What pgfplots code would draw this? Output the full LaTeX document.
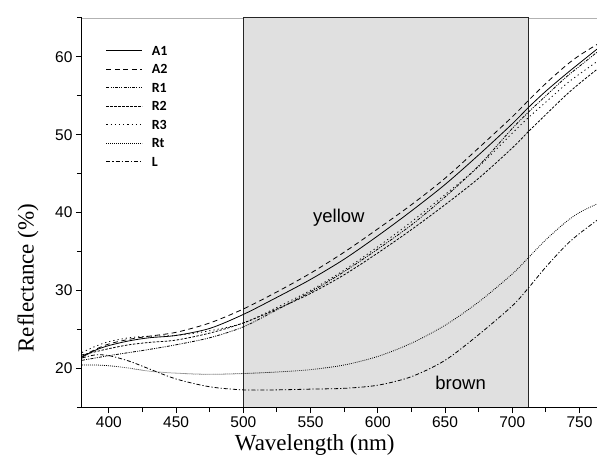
\documentclass[border=0pt]{standalone}
\usepackage{fontspec}
\setmainfont{Liberation Serif}
\newfontfamily\sansf{Liberation Sans}
\newfontfamily\legf{Carlito}
\usepackage{pgfplots}
\usepackage{pgfplotstable}
\pgfplotsset{compat=1.18}

\pgfplotstableread{
x    A1    A2    R1    R2    R3    Rt    L
380  21.4  21.5  21.0  21.7  22.0  20.4  21.3
390  22.3  22.4  21.3  22.1  22.8  20.4  21.7
400  22.9  23.1  21.6  22.5  23.4  20.3  21.6
415  23.5  23.7  22.0  23.0  23.9  20.0  20.9
430  23.9  24.1  22.4  23.3  24.1  19.6  19.9
450  24.2  24.6  23.0  23.6  24.2  19.35 18.6
475  25.1  25.8  23.9  24.5  24.8  19.2  17.6
500  26.9  27.6  25.3  25.8  25.8  19.3  17.2
525  29.1  29.8  27.5  27.6  27.8  19.5  17.2
550  31.4  32.2  29.8  29.6  30.0  19.8  17.3
575  34.0  34.9  32.4  32.0  32.6  20.4  17.4
600  37.0  37.9  35.3  34.8  35.6  21.5  17.8
625  40.2  41.0  38.4  37.8  38.8  23.2  18.9
650  43.6  44.4  42.0  41.0  42.3  25.5  21.0
675  47.4  48.3  46.0  44.4  45.9  28.5  24.3
700  51.4  52.3  50.8  48.3  50.2  32.1  28.0
712  53.5  54.4  52.9  50.4  52.2  34.2  30.3
725  55.6  56.6  55.0  52.6  54.2  36.5  33.0
740  57.8  58.9  57.4  55.1  56.5  38.8  35.8
750  59.2  60.2  58.8  56.6  57.8  40.0  37.3
763  61.0  61.6  60.6  58.4  59.4  41.1  39.0
}\data

\begin{document}
\begin{tikzpicture}
\useasboundingbox (-82bp,-57bp) rectangle (515bp,407bp);
\begin{axis}[
  scale only axis, width=515bp, height=389bp,
  at={(0,0)}, anchor=south west,
  xmin=380, xmax=763, ymin=15, ymax=65,
  axis x line*=bottom, axis y line*=left,
  axis line style={line width=1bp, -},
  axis on top,
  tick align=outside,
  xtick={400,450,...,750}, minor xtick={425,475,...,725},
  ytick={20,30,...,60}, minor ytick={15,25,...,65},
  major tick length=6bp, minor tick length=5bp,
  every tick/.style={line width=1bp, black},
  ticklabel style={font=\sansf\fontsize{15.5bp}{18bp}\selectfont},
  /pgf/number format/assume math mode=true,
  xlabel={Wavelength (nm)}, ylabel={Reflectance (\%)},
  label style={font=\fontsize{23bp}{26bp}\selectfont},
  xlabel style={at={(axis description cs:0.452,-0.0977)}, anchor=center},
  ylabel style={at={(axis description cs:-0.1049,0.3316)}, anchor=center, rotate=0},
  legend style={draw=none, fill=none, at={(axis description cs:0,1)}, anchor=north west,
    xshift=24bp, yshift=-27bp, inner sep=0bp, outer sep=0bp, row sep=7bp,
    font=\legf\bfseries\fontsize{14bp}{16bp}\selectfont,
    nodes={inner sep=1bp, text height=9.5bp, text depth=0bp}},
  legend cell align=left,
  /tikz/every odd column/.append style={column sep=8bp},
  legend image code/.code={\draw[#1] (0bp,0bp) -- (36bp,0bp);},
  every axis plot/.append style={line width=0.8bp, black, smooth, tension=0.5},
]
\draw[black!30, line width=0.8bp] (axis cs:380,65) -- (axis cs:763,65);
\addplot[fill=black!12, draw=black!85, line width=1bp, forget plot, sharp plot]
  coordinates {(500,15) (500,65) (712,65) (712,15)};
\addplot[solid] table[x=x,y=A1] {\data};
\addlegendentry{A1}
\addplot[dash pattern=on 5bp off 3.5bp] table[x=x,y=A2] {\data};
\addlegendentry{A2}
\addplot[dash pattern=on 3bp off 1.2bp on 1bp off 1.2bp on 1bp off 1.2bp] table[x=x,y=R1] {\data};
\addlegendentry{R1}
\addplot[dash pattern=on 2.5bp off 1.5bp] table[x=x,y=R2] {\data};
\addlegendentry{R2}
\addplot[dash pattern=on 1.2bp off 3bp] table[x=x,y=R3] {\data};
\addlegendentry{R3}
\addplot[dash pattern=on 0.8bp off 1.2bp] table[x=x,y=Rt] {\data};
\addlegendentry{Rt}
\addplot[dash pattern=on 4bp off 2bp on 1.2bp off 2bp] table[x=x,y=L] {\data};
\addlegendentry{L}
\node[font=\sansf\fontsize{18.5bp}{21bp}\selectfont] at (axis cs:571,39.3) {yellow};
\node[font=\sansf\fontsize{18.5bp}{21bp}\selectfont] at (axis cs:661.6,18.07) {brown};
\end{axis}
\end{tikzpicture}
\end{document}
